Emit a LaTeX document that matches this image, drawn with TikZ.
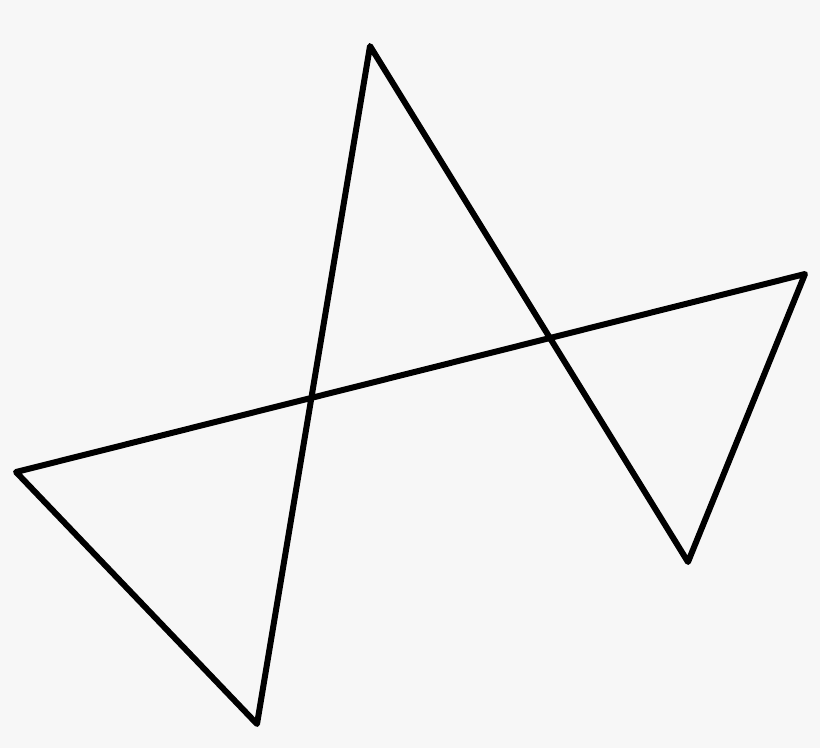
\documentclass[tikz,border=0pt]{standalone}
\begin{document}
\begin{tikzpicture}[x=1pt,y=-1pt,
  outline/.style={draw=black,line width=6pt,line join=round,line cap=round}]
\fill[fill={rgb,255:red,247;green,247;blue,247}] (0,0) rectangle (820,748);
\useasboundingbox (0,0) rectangle (820,748);
\coordinate (a) at (370,46);
\coordinate (b) at (688,562);
\coordinate (c) at (805,274);
\coordinate (d) at (16,472);
\coordinate (e) at (257,724);
\draw[outline] (a) -- (b) -- (c) -- (d) -- (e) -- cycle;
\end{tikzpicture}
\end{document}
